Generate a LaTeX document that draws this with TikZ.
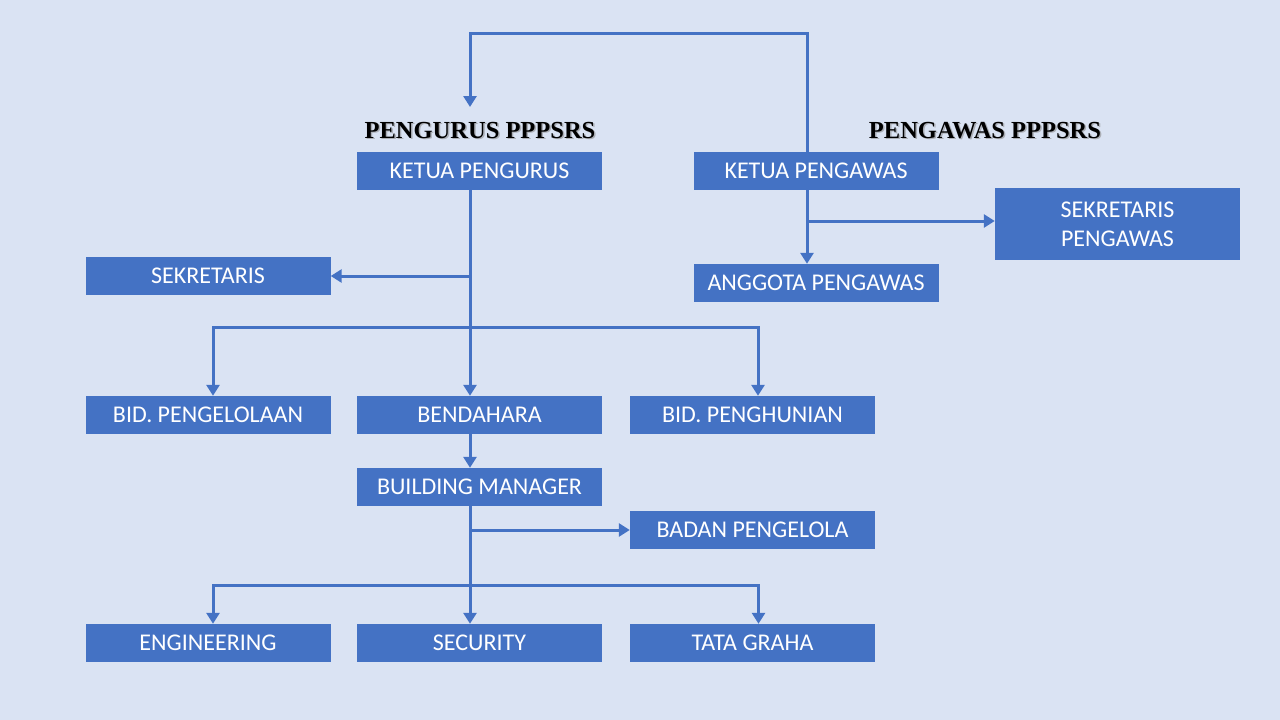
\documentclass[tikz,border=0pt]{standalone}
\usepackage{fontspec}
\setmainfont{Carlito}
\newfontfamily\titlefont{Liberation Serif}
\usetikzlibrary{arrows.meta,calc}
\definecolor{bg}{HTML}{DAE3F3}
\definecolor{boxblue}{HTML}{4472C4}
\begin{document}
\begin{tikzpicture}[x=1pt,y=-1pt,
  box/.style={fill=boxblue,text=white,minimum width=245pt,minimum height=38pt,inner sep=0pt,
    font=\fontsize{24}{29}\selectfont,align=center},
  conn/.style={draw=boxblue,line width=3pt,line join=miter},
  arr/.style={conn,-{Triangle[width=13pt,length=11pt]}},
  ttl/.style={font=\titlefont\bfseries\fontsize{24.5}{28}\selectfont,anchor=base},
  ttlshadow/.style={ttl,text=black!45,opacity=0.6}]
\fill[bg] (0,0) rectangle (1280,720);
\useasboundingbox (0,0) rectangle (1280,720);

% titles
\node[ttlshadow] at (481.5,139.5) {PENGURUS PPPSRS};
\node[ttl] (t1) at (480,138) {PENGURUS PPPSRS};
\node[ttlshadow] at (986.5,139.5) {PENGAWAS PPPSRS};
\node[ttl] (t2) at (985,138) {PENGAWAS PPPSRS};

% boxes
\node[box] (kp)  at (479.5,171) {KETUA PENGURUS};
\node[box] (kpw) at (816,171) {KETUA PENGAWAS};
\node[box,minimum height=72pt] (spw) at (1117.5,224) {SEKRETARIS\\PENGAWAS};
\node[box] (ang) at (816,283) {ANGGOTA PENGAWAS};
\node[box] (sek) at (208,276) {SEKRETARIS};
\node[box] (bpl) at (208,415) {BID. PENGELOLAAN};
\node[box] (bend) at (479.5,415) {BENDAHARA};
\node[box] (bph) at (752.5,415) {BID. PENGHUNIAN};
\node[box] (bm) at (479.5,487) {BUILDING MANAGER};
\node[box] (bpg) at (752.5,530) {BADAN PENGELOLA};
\node[box] (eng) at (208,643) {ENGINEERING};
\node[box] (sec) at (479.5,643) {SECURITY};
\node[box] (tg) at (752.5,643) {TATA GRAHA};

% helper coordinates
\coordinate (sp) at (470,0);
\coordinate (pw) at (807,0);
\coordinate (top) at (0,33);
\coordinate (tip) at (470,107);
\coordinate (h1) at (0,327);
\coordinate (h2) at (0,585);

% top loop
\draw[arr] (kpw.north -| pw) -- (pw |- top) -- (sp |- top) -- (tip);

% pengurus spine
\draw[arr] (kp.south -| sp) -- (bend.north -| sp);
\draw[arr] (sp |- sek.east) -- (sek.east);
\draw[arr] (sp |- h1) -| ([xshift=5pt]bpl.north);
\draw[arr] (sp |- h1) -| ([xshift=5.5pt]bph.north);
\draw[arr] (bend.south -| sp) -- (bm.north -| sp);
\draw[arr] (bm.south -| sp) -- (sec.north -| sp);
\draw[arr] (sp |- bpg.west) -- (bpg.west);
\draw[arr] (sp |- h2) -| ([xshift=5pt]eng.north);
\draw[arr] (sp |- h2) -| ([xshift=6pt]tg.north);

% pengawas
\draw[arr] (kpw.south -| pw) -- (ang.north -| pw);
\draw[arr] (pw |- 0,221) -- ([yshift=3pt]spw.west);
\end{tikzpicture}
\end{document}
